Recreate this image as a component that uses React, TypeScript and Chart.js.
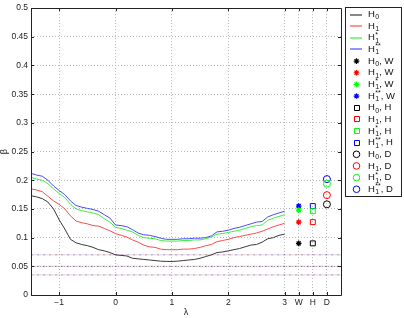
import React, { useEffect, useRef } from "react";
import { Chart, registerables } from "chart.js";
Chart.register(...registerables);

const FONT = "'Liberation Sans', Arial, Helvetica, sans-serif";

const lambda = [
  -1.5, -1.4, -1.3, -1.2, -1.1, -1.0, -0.9, -0.8, -0.7, -0.6, -0.5, -0.4, -0.3, -0.2, -0.1,
  0.0, 0.1, 0.2, 0.3, 0.4, 0.5, 0.6, 0.7, 0.8, 0.9, 1.0, 1.1, 1.2, 1.3, 1.4, 1.5,
  1.6, 1.7, 1.8, 1.9, 2.0, 2.1, 2.2, 2.3, 2.4, 2.5, 2.6, 2.7, 2.8, 2.9, 3.0,
];
const betaH0 = [
  0.173, 0.171, 0.168, 0.162, 0.15, 0.131, 0.115, 0.097, 0.091, 0.088, 0.086, 0.083, 0.079, 0.077, 0.074,
  0.07, 0.069, 0.068, 0.064, 0.063, 0.062, 0.061, 0.06, 0.059, 0.0585, 0.0585, 0.059, 0.06, 0.061, 0.062, 0.064,
  0.067, 0.07, 0.074, 0.075, 0.077, 0.079, 0.081, 0.084, 0.087, 0.088, 0.092, 0.098, 0.1, 0.104, 0.106,
];
const betaH1 = [
  0.185, 0.183, 0.18, 0.172, 0.164, 0.158, 0.15, 0.138, 0.129, 0.126, 0.124, 0.121, 0.12, 0.116, 0.112,
  0.107, 0.104, 0.101, 0.096, 0.092, 0.087, 0.084, 0.083, 0.08, 0.079, 0.079, 0.079, 0.08, 0.08, 0.081, 0.083,
  0.086, 0.088, 0.093, 0.095, 0.097, 0.1, 0.102, 0.104, 0.106, 0.108, 0.111, 0.115, 0.119, 0.122, 0.125,
];
const betaH1s = [
  0.205, 0.202, 0.2, 0.194, 0.185, 0.177, 0.17, 0.158, 0.15, 0.147, 0.145, 0.143, 0.14, 0.133, 0.127,
  0.118, 0.116, 0.113, 0.11, 0.104, 0.1, 0.099, 0.098, 0.095, 0.094, 0.094, 0.094, 0.095, 0.095, 0.096, 0.096,
  0.098, 0.101, 0.106, 0.107, 0.109, 0.111, 0.113, 0.116, 0.119, 0.121, 0.122, 0.13, 0.134, 0.137, 0.14,
];
const betaH1ss = [
  0.212, 0.209, 0.207, 0.2, 0.19, 0.182, 0.175, 0.164, 0.156, 0.153, 0.151, 0.149, 0.146, 0.14, 0.134,
  0.122, 0.121, 0.119, 0.114, 0.108, 0.105, 0.104, 0.102, 0.099, 0.097, 0.097, 0.097, 0.098, 0.098, 0.099, 0.099,
  0.1, 0.103, 0.11, 0.111, 0.113, 0.116, 0.118, 0.121, 0.124, 0.127, 0.128, 0.136, 0.14, 0.143, 0.146,
];

// Extra categories W, H, D (values for H0, H1, H1*, H1**)
const extraPositions = [3.25, 3.5, 3.75];
const valuesW = [0.09, 0.127, 0.148, 0.155];
const valuesH = [0.09, 0.127, 0.146, 0.155];
const valuesD = [0.158, 0.174, 0.194, 0.202];

const refLevels = [0.07, 0.05, 0.035];

const xTickValues = [-1, 0, 1, 2, 3, 3.25, 3.5, 3.75];
const xTickLabels = ["\u22121", "0", "1", "2", "3", "W", "H", "D"];
const yTickValues = [0, 0.05, 0.1, 0.15, 0.2, 0.25, 0.3, 0.35, 0.4, 0.45, 0.5];
const yTickLabels = ["0", "0.05", "0.1", "0.15", "0.2", "0.25", "0.3", "0.35", "0.4", "0.45", "0.5"];

const seriesColors = ["#000000", "#ff0000", "#00ff00", "#0000ff"];
const lineColors = ["#3a3a3a", "#ff4a4a", "#3cf03c", "#4a4aff"];
const seriesSubs = ["0", "1", "1", "1"];
const seriesSups = ["", "", "*", "**"];
const markerStyles = ["star", "rect", "circle"];
const markerSuffix = [", W", ", H", ", D"];

function legendRows() {
  const rows: any[] = [];
  for (let s = 0; s < 4; s++) {
    rows.push({ kind: "line", color: lineColors[s], sub: seriesSubs[s], sup: seriesSups[s], suffix: "" });
  }
  for (let m = 0; m < 3; m++) {
    for (let s = 0; s < 4; s++) {
      rows.push({ kind: markerStyles[m], color: seriesColors[s], sub: seriesSubs[s], sup: seriesSups[s], suffix: markerSuffix[m] });
    }
  }
  return rows;
}

const framePlugin = {
  id: "frame",
  afterDraw(chart: any) {
    const { ctx, chartArea } = chart;
    const { left, right, top, bottom } = chartArea;
    const xs = chart.scales.x;
    const ys = chart.scales.y;
    ctx.save();
    ctx.setLineDash([]);
    ctx.strokeStyle = "#222";
    ctx.lineWidth = 1;
    ctx.beginPath();
    ctx.rect(Math.round(left) + 0.5, Math.round(top) + 0.5, Math.round(right - left), Math.round(bottom - top));
    ctx.stroke();
    const tl = 3;
    ctx.beginPath();
    yTickValues.forEach((v) => {
      const py = Math.round(ys.getPixelForValue(v)) + 0.5;
      ctx.moveTo(left, py);
      ctx.lineTo(left + tl, py);
      ctx.moveTo(right, py);
      ctx.lineTo(right - tl, py);
    });
    xTickValues.forEach((v) => {
      const px = Math.round(xs.getPixelForValue(v)) + 0.5;
      ctx.moveTo(px, bottom);
      ctx.lineTo(px, bottom - tl);
      ctx.moveTo(px, top);
      ctx.lineTo(px, top + tl);
    });
    ctx.stroke();
    ctx.fillStyle = "#222";
    ctx.font = `9px ${FONT}`;
    ctx.textAlign = "center";
    ctx.textBaseline = "middle";
    ctx.fillText("\u03bb", (left + right) / 2, 313);
    ctx.save();
    ctx.translate(5, (top + bottom) / 2);
    ctx.rotate(-Math.PI / 2);
    ctx.fillText("\u03b2", 0, 0);
    ctx.restore();

    // Legend
    const bx = 345.5, by = 7.5, bw = 56, bh = 189;
    ctx.fillStyle = "#fff";
    ctx.fillRect(bx, by, bw, bh);
    ctx.strokeStyle = "#222";
    ctx.strokeRect(bx, by, bw, bh);
    const rows = legendRows();
    rows.forEach((r, i) => {
      const cy = 14.5 + i * 11.65;
      const sx = 356.5;
      ctx.strokeStyle = r.color;
      ctx.lineWidth = 1;
      ctx.beginPath();
      if (r.kind === "line") {
        ctx.strokeStyle = r.color;
        ctx.lineWidth = 1.2;
        ctx.moveTo(350, Math.round(cy));
        ctx.lineTo(362, Math.round(cy));
        ctx.stroke();
      } else if (r.kind === "star") {
        ctx.lineWidth = 1.2;
        const rr = 2.8;
        ctx.moveTo(sx - rr, cy);
        ctx.lineTo(sx + rr, cy);
        ctx.moveTo(sx, cy - rr);
        ctx.lineTo(sx, cy + rr);
        const d = rr * 0.7;
        ctx.moveTo(sx - d, cy - d);
        ctx.lineTo(sx + d, cy + d);
        ctx.moveTo(sx - d, cy + d);
        ctx.lineTo(sx + d, cy - d);
        ctx.stroke();
      } else if (r.kind === "rect") {
        ctx.rect(Math.round(sx) - 2.5, Math.round(cy) - 2.5, 5, 5);
        ctx.stroke();
      } else {
        ctx.arc(sx, cy, 3.3, 0, Math.PI * 2);
        ctx.stroke();
      }
      // Text
      ctx.fillStyle = "#111";
      ctx.textAlign = "left";
      ctx.textBaseline = "middle";
      ctx.font = `9.5px ${FONT}`;
      let tx = 368;
      ctx.fillText("H", tx, cy);
      tx += ctx.measureText("H").width + 0.3;
      ctx.font = `7px ${FONT}`;
      const subW = ctx.measureText(r.sub).width;
      const supW = r.sup ? ctx.measureText(r.sup).width : 0;
      ctx.fillText(r.sub, tx, cy + 3);
      if (r.sup) ctx.fillText(r.sup, tx, cy - 3);
      tx += Math.max(subW, supW) + 0.2;
      if (r.suffix) {
        ctx.font = `9.5px ${FONT}`;
        ctx.fillText(r.suffix, tx, cy);
      }
    });
    ctx.restore();
  },
};

export default function App() {
  const ref = useRef<HTMLCanvasElement | null>(null);
  useEffect(() => {
    document.body.style.margin = "0";
    const canvas = ref.current!;
    const curves = [betaH0, betaH1, betaH1s, betaH1ss];
    const datasets: any[] = [];
    const refColors = ["rgba(0,0,0,0.4)", "rgba(255,0,0,0.2)", "rgba(0,0,255,0.2)"];
    refLevels.forEach((lv) => {
      refColors.forEach((c, k) => {
        datasets.push({
          type: "line",
          data: [
            { x: -1.5, y: lv },
            { x: 4, y: lv },
          ],
          borderColor: c,
          borderWidth: 1,
          borderDash: [2, 4],
          borderDashOffset: k * 2,
          pointRadius: 0,
        });
      });
    });
    curves.forEach((arr, s) => {
      datasets.push({
        type: "line",
        data: lambda.map((x, i) => ({ x, y: arr[i] })),
        borderColor: lineColors[s],
        borderWidth: 1,
        pointRadius: 0,
        tension: 0,
      });
    });
    const extraVals = [valuesW, valuesH, valuesD];
    extraVals.forEach((vals, m) => {
      vals.forEach((v, s) => {
        datasets.push({
          type: "scatter",
          data: [{ x: extraPositions[m], y: v }],
          borderColor: seriesColors[s],
          backgroundColor: "rgba(0,0,0,0)",
          pointStyle: markerStyles[m],
          pointRadius: m === 0 ? 2.8 : 3.5,
          borderWidth: m === 0 ? 1.3 : 1,
          showLine: false,
        });
      });
    });

    const chart = new Chart(canvas, {
      type: "line",
      data: { datasets },
      options: {
        animation: false,
        responsive: false,
        maintainAspectRatio: false,
        layout: { padding: { top: 7, right: 63, left: 0, bottom: 0 } },
        plugins: { legend: { display: false }, tooltip: { enabled: false } },
        scales: {
          x: {
            type: "linear",
            min: -1.5,
            max: 4,
            afterFit: (s: any) => {
              s.height = 23;
            },
            afterBuildTicks: (s: any) => {
              s.ticks = xTickValues.map((v) => ({ value: v }));
            },
            ticks: {
              autoSkip: false,
              maxRotation: 0,
              padding: 3,
              color: "#222",
              font: { family: FONT, size: 8.5 },
              callback: (v: any) => {
                const idx = xTickValues.findIndex((t) => Math.abs(t - v) < 1e-6);
                return idx >= 0 ? xTickLabels[idx] : "";
              },
            },
            grid: { color: "#b8b8b8", lineWidth: 1, drawTicks: false },
            border: { display: false, dash: [1, 2] },
          },
          y: {
            type: "linear",
            min: 0,
            max: 0.5,
            afterFit: (s: any) => {
              s.width = 31;
            },
            afterBuildTicks: (s: any) => {
              s.ticks = yTickValues.map((v) => ({ value: v }));
            },
            ticks: {
              padding: 3,
              color: "#222",
              font: { family: FONT, size: 8.5 },
              callback: (v: any) => {
                const idx = yTickValues.findIndex((t) => Math.abs(t - v) < 1e-6);
                return idx >= 0 ? yTickLabels[idx] : "";
              },
            },
            grid: { color: "#b8b8b8", lineWidth: 1, drawTicks: false },
            border: { display: false, dash: [1, 2] },
          },
        },
      },
      plugins: [framePlugin],
    } as any);
    return () => chart.destroy();
  }, []);

  return (
    <div style={{ position: "absolute", left: 0, top: 0, width: 404, height: 318, background: "#fff" }}>
      <canvas ref={ref} width={404} height={318} style={{ width: 404, height: 318, display: "block" }} />
    </div>
  );
}
